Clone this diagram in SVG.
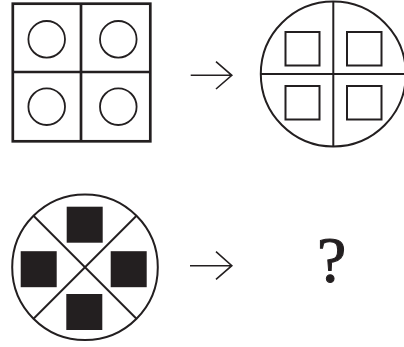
<svg xmlns="http://www.w3.org/2000/svg" width="404" height="347" viewBox="0 0 404 347">
<style>
.ln{stroke:#231f20;fill:none}
.thick{stroke-width:2.7}
.mid{stroke-width:2}
.thin{stroke-width:1.8}
.blk{fill:#231f20}
.arr{stroke:#231f20;fill:none;stroke-width:1.6}
text{font-family:"Liberation Serif","Times New Roman",serif;fill:#231f20}
</style>
<rect width="404" height="347" fill="#fff"/>
<g id="fig1">
<rect class="ln thick" x="12.8" y="3.7" width="137.5" height="137.6"/>
<line class="ln thick" x1="81" y1="3.7" x2="81" y2="141.3"/>
<line class="ln thick" x1="12.8" y1="72" x2="150.3" y2="72"/>
<circle class="ln thin" cx="46.7" cy="39.3" r="18.3"/>
<circle class="ln thin" cx="118.3" cy="39.3" r="18.3"/>
<circle class="ln thin" cx="46.7" cy="106.7" r="18.3"/>
<circle class="ln thin" cx="118.3" cy="106.7" r="18.3"/>
</g>
<g id="fig2">
<circle class="ln mid" cx="333.3" cy="74" r="72.5"/>
<line class="ln mid" x1="333.3" y1="1.5" x2="333.3" y2="146.5"/>
<line class="ln mid" x1="260.8" y1="74" x2="405.8" y2="74"/>
<rect class="ln mid" x="285.5" y="32" width="34" height="33.5"/>
<rect class="ln mid" x="347" y="32" width="34.5" height="33.5"/>
<rect class="ln mid" x="285.5" y="86" width="34" height="33.5"/>
<rect class="ln mid" x="347" y="86" width="34.5" height="33.5"/>
</g>
<g id="fig3">
<circle class="ln mid" cx="85" cy="267.3" r="72.8"/>
<line class="ln mid" x1="33.5" y1="215.8" x2="136.5" y2="318.8"/>
<line class="ln mid" x1="136.5" y1="215.8" x2="33.5" y2="318.8"/>
<rect class="blk" x="66.7" y="206.7" width="36" height="36"/>
<rect class="blk" x="20.7" y="251.2" width="36" height="36"/>
<rect class="blk" x="110.7" y="251.2" width="36" height="36"/>
<rect class="blk" x="66.3" y="294" width="36" height="36"/>
</g>
<g id="unknown">
<text x="331.7" y="282.3" font-size="66" text-anchor="middle" stroke="#231f20" stroke-width="1">?</text>
</g>
<g id="connectors">
<path class="arr" d="M190.7 75.3H231.5M216 61.7L231.8 75.3L216 89"/>
<path class="arr" d="M190 265.7H231.5M216 251.7L231.8 265.7L216 279.3"/>
</g>
</svg>
